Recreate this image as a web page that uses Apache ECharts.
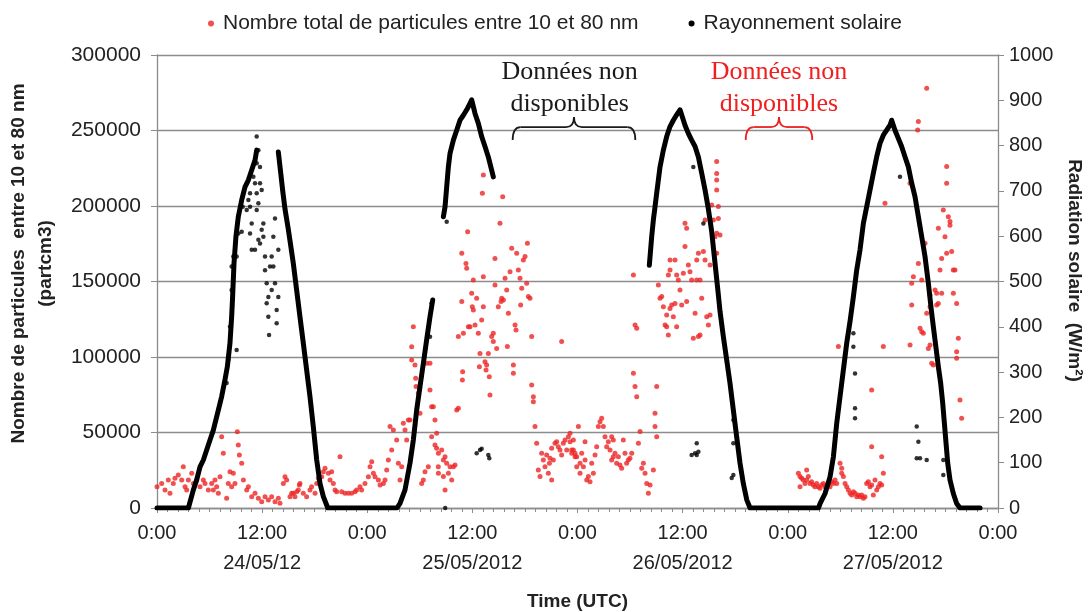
<!DOCTYPE html>
<html>
<head>
<meta charset="utf-8">
<script src="https://cdn.jsdelivr.net/npm/echarts@6/dist/echarts.min.js"></script>
<style>
  html, body { margin: 0; padding: 0; background: #fff; }
  #chart { width: 1091px; height: 612px; }
</style>
</head>
<body>
<div id="chart"></div>
<script>
// hours since 24/05/2012 0:00 UTC
var dateLabels = ['24/05/12', '25/05/2012', '26/05/2012', '27/05/2012'];
var particleName = 'Nombre total de particules entre 10 et 80 nm';
var solarName = 'Rayonnement solaire';

// particle counts [hour, part/cm3]
var particlesDay1 = [
  [0.0,14100],[0.53,16300],[0.91,11900],[1.29,18500],[1.48,9700],[1.86,16300],[2.05,19700],[2.43,21900],
  [2.82,18500],[3.0,27400],[3.2,14100],[3.39,11900],[3.58,18500],[3.96,23000],[4.15,16300],[4.53,18500],
  [4.91,14100],[5.29,18500],[5.48,16300],[5.86,11900],[6.24,16300],[6.43,11900],[6.62,18500],[6.81,14100],
  [7.0,9700],[7.19,20700],[7.38,47200],[7.57,36200],[7.95,6400],[8.14,16300],[8.33,24000],[8.52,14100],
  [8.71,23000],[8.9,16300],[9.17,50500],[9.28,41700],[9.4,35100],[9.67,29600],[9.86,18500],[10.24,11900],
  [10.43,14100],[10.81,7500],[11.19,9700],[11.57,6400],[11.95,4200],[12.33,7500],[12.71,5300],[13.09,7500],
  [13.47,4200],[13.85,6400],[14.04,3100],[14.42,16300],[14.61,20700],[14.8,18500],[15.18,7500],[15.56,9700],
  [15.94,10800],[16.25,15200],[15.37,9700],[15.75,7500],[16.13,11900],[16.32,16300],[16.7,9700],[17.08,7500],
  [17.46,11900],[17.65,14100],[18.04,9700],[18.23,16300],[18.42,19700],[18.8,20700],[18.99,24000],[19.18,26300],
  [19.56,23000],[19.75,18500],[19.94,24000],[20.13,16300],[20.32,11900],[20.51,10800],[20.89,34000],[21.08,10800],
  [21.46,9700],[21.84,9700],[22.22,9700],[22.6,10800],[22.79,11900],[23.17,14100],[23.36,11900],[23.74,16300]
];
var particlesDay2 = [
  [24.13,20700],[24.32,27400],[24.51,30700],[24.7,23000],[24.89,20700],[25.27,18500],[25.46,15200],[25.84,16300],
  [26.03,18500],[26.22,25200],[26.41,31800],[26.6,53900],[26.79,38400],[26.98,51700],[27.36,45000],[27.55,29600],
  [27.74,18500],[27.93,27400],[28.12,56100],[28.31,51700],[28.5,45000],[28.69,58300],[28.88,58300],[29.07,98000],
  [29.07,106800],[29.26,120000],[29.45,94700],[29.53,85900],[29.57,80400],[29.83,76000],[30.02,62700],[30.21,16300],
  [30.4,18500],[30.59,24000],[30.78,95800],[30.97,27400],[31.16,78200],[31.35,67100],[31.73,58300],[31.92,49500],
  [32.11,27400],[31.16,95800],[31.54,67100],[31.35,47200],[31.73,41700],[31.92,39500],[32.12,36200],[32.5,38400],
  [32.69,31800],[32.88,34000],[33.07,29600],[32.12,23000],[32.69,20800],[32.88,11900],[33.26,23000],[33.45,27400],
  [33.64,18500],[33.83,27400],[34.02,28500],[34.21,64900],[34.4,66000],[34.4,113500],[34.79,136700],[34.89,90300],
  [34.86,84800],[34.97,115700],[34.79,168700],[35.27,162000],[35.35,158700],[35.46,183000],[35.54,120100],[35.73,120100],
  [35.92,142200],[35.99,133300],[36.11,151000],[36.11,131100],[36.3,121200],[36.49,138900],[36.68,115700],[36.87,102400],
  [36.8,93600],[37.06,124500],[37.25,153200],[37.25,133300],[37.44,96900],[37.56,91400],[37.63,94700],[37.82,102400],
  [37.93,87000],[38.01,74800],[38.2,113500],[38.39,110200],[38.39,115700],[38.58,165300],[38.58,147700],[38.77,105700],
  [38.96,133300],[39.15,188500],[39.27,136700],[39.35,138900],[39.46,206200],[39.54,137800],[39.73,152100],[39.92,144400],
  [39.99,106900],[40.11,128900],[40.3,156500],[40.49,172000],[40.68,94700],[40.68,89200],[40.87,121200],[40.98,117900],
  [41.06,168700],[41.25,157600],[41.44,152100],[41.51,134400],[41.63,145500],[41.82,164300],[42.01,166500],[42.2,148800],
  [42.28,175300],[42.39,140000],[42.58,138900],[42.77,113500],[42.77,81500],[42.96,73700],[42.96,70400],[43.15,53900],
  [43.34,42800],[37.25,220500],[37.14,208400],
  [43.53,25200],[43.72,20800],[43.91,36200],[44.1,31800],[44.29,27400],[44.48,35100],[44.67,23000],[44.79,29600],
  [44.86,32900],[45.05,39500],[45.05,18500],[45.24,31800],[45.43,42800],[45.62,43900],[45.81,40600],[46.0,38400],
  [46.19,35100],[46.38,42800],[46.58,45000],[46.77,38400],[46.96,47200],[47.15,43900],[47.34,36200],[47.53,38400],
  [47.72,34000],[47.91,27400],[48.1,53900],[46.19,110200]
];
var particlesDay3 = [
  [47.15,49500],[47.34,38400],[47.53,45000],[47.72,36200],[47.91,34000],[48.29,29600],[48.29,23000],[48.48,36200],
  [48.67,27400],[48.86,43900],[48.86,31800],[49.05,18500],[49.24,20800],[49.43,17400],[49.62,29600],[49.81,23000],
  [50.0,35100],[50.19,40600],[50.38,53900],[50.57,57200],[50.76,59400],[50.95,53900],[51.14,47200],[51.33,40600],
  [51.52,43900],[51.71,38400],[51.9,47200],[52.09,45000],[51.9,31800],[52.09,34000],[52.28,36200],[52.47,29600],
  [52.66,34000],[52.85,28500],[53.04,26300],[53.23,45000],[53.42,36200],[53.61,29600],[53.8,31800],[53.99,32900],
  [54.19,36200],[54.38,89200],[54.57,80400],[54.76,73700],[54.95,42800],[55.14,50600],[55.33,26300],[55.52,29600],
  [55.71,23000],[55.9,16300],[56.09,9700],[56.28,15200],[56.66,25200],[56.85,62700],[56.85,53900],[57.04,47200],
  [57.04,80400],[54.38,154300],[54.57,121200],[54.76,119000],
  [57.23,147700],[57.42,138900],[57.61,140000],[57.8,133300],[57.99,121200],[58.18,120100],[58.18,127800],[58.37,114600],
  [58.56,132200],[58.75,134400],[58.94,126700],[59.13,135500],[59.32,120100],[59.7,144400],[59.89,134400],[60.08,155400],
  [60.27,173100],[60.46,136700],[60.65,160900],[60.84,156500],[61.03,151000],[61.22,112400],[61.42,128900],[61.61,164300],
  [61.8,113500],[61.99,114600],[62.18,138900],[62.37,169800],[62.56,190700],[62.56,164300],[62.75,126700],[62.94,121200],
  [63.13,127800],[60.27,188500],[60.46,185200],[58.56,164300],[59.13,164300],[58.37,154300],[58.56,157600],[59.32,154300],
  [59.51,151000],[63.89,229400],[63.89,221600],[63.89,217200],[63.89,210600],[64.08,199600],[64.08,191800],[63.89,181900],
  [63.51,190700],[63.7,179700],[61.99,151000],[61.61,151000],[61.8,168700],[63.89,168700],[63.32,200700],[64.27,180800],
  [63.13,160900]
];
var particlesDay4 = [
  [73.21,23000],[73.4,20800],[73.59,19700],[73.78,18500],[73.97,16300],[74.16,25200],[74.35,20800],[74.54,16300],
  [74.73,17400],[74.92,15200],[75.11,14100],[75.3,16300],[75.49,14100],[75.68,13000],[75.87,15200],[76.06,16300],
  [76.26,14100],[76.45,15200],[76.64,16300],[76.83,14100],[77.02,17400],[77.21,16300],[77.4,18500],[77.59,16300],
  [77.78,106900],[77.97,29600],[78.16,26300],[78.16,23000],[78.35,20800],[78.54,16300],[78.73,14100],[78.92,11900],
  [79.11,9700],[79.3,8600],[79.49,10800],[79.68,9700],[79.87,7500],[80.06,8600],[73.4,14100],[74.16,18500],
  [80.25,7500],[80.44,8600],[80.63,6400],[80.82,7500],[81.01,16300],[81.2,17400],[81.39,14100],[81.58,15200],
  [81.77,8600],[81.96,18500],[82.15,11900],[82.34,14100],[82.53,16300],[82.72,15200],[82.91,23000],[81.58,40600],
  [81.58,78100],[82.72,34000],[82.91,106900],[83.1,201800],[85.96,108000],[85.96,215000],[86.15,134400],[86.34,153200],
  [86.15,148800],[86.91,255900],[86.83,250300],[86.91,162000],[87.1,119000],[87.29,151000],[87.29,116800],[87.48,115700],
  [87.67,175300],[87.86,128900],[88.05,105700],[88.24,133300],[88.24,108000],[88.43,95800],[88.62,94700],[88.81,144400],
  [89.0,142200],[89.19,135500],[89.19,185200],[89.38,157600],[89.57,165300],[89.76,197400],[89.95,179700],[90.14,215000],
  [90.14,226100],[90.14,168700],[90.33,192900],[90.52,189700],[90.52,187200],[90.71,169800],[90.9,142200],[90.9,157600],
  [91.09,157600],[91.28,135500],[91.28,103500],[91.28,99100],[91.47,112400],[91.66,71500],[91.85,59400],[87.86,278000],
  [88.24,141100],[89.0,134400],[89.57,142200]
];

// solar radiation [hour, W/m2]; dense runs of the record
var solarRun1 = [
  [0,0],[3.58,0],[4.15,40],[4.53,62],[4.91,91],[5.29,106],[5.67,128],[6.05,150],[6.43,172],[7.0,216],[7.38,246],
  [7.76,283],[8.03,312],[8.33,364],[8.52,422],[8.63,466],[8.79,540],[9.01,599],[9.28,643],[9.67,680],[10.05,709],
  [10.43,724],[10.81,746],[11.19,768],[11.38,790]
];
var solarRun2 = [
  [13.85,786],[14.12,740],[14.35,700],[14.61,660],[14.99,615],[15.18,590],[15.56,540],[15.94,481],[16.32,422],
  [16.7,364],[17.08,305],[17.46,246],[17.84,180],[18.23,106],[18.61,54],[18.99,25],[19.5,0],[27.4,0],[27.74,10],
  [28.31,40],[28.88,99],[29.26,150],[29.64,216],[30.02,268],[30.4,319],[30.78,371],[31.16,422],[31.47,459]
];
var solarRun3 = [
  [32.69,643],[32.88,665],[33.07,709],[33.26,753],[33.45,783],[33.83,812],[34.21,834],[34.59,856],[34.97,867],
  [35.35,879],[35.73,893],[35.92,901],[36.3,871],[36.68,849],[37.06,820],[37.44,798],[37.82,775],[38.2,746],[38.39,731]
];
var solarRun4 = [
  [56.2,536],[56.47,599],[56.66,636],[56.85,665],[57.04,695],[57.23,724],[57.42,753],[57.8,790],[58.18,820],
  [58.56,842],[58.94,856],[59.32,868],[59.7,879],[59.89,868],[60.27,845],[60.65,827],[61.03,812],[61.42,798],
  [61.8,775],[62.18,739],[62.56,702],[62.94,660],[63.32,610],[63.7,540],[64.08,470],[64.27,434],[64.65,378],
  [65.03,327],[65.41,275],[65.79,216],[66.17,157],[66.55,99],[66.93,54],[67.32,18],[67.7,0],[75.5,0],[75.7,10],
  [76.26,32],[76.83,69],[77.21,113],[77.59,187],[77.97,246],[78.35,305],[78.73,364],[79.11,412],[79.49,466],
  [79.87,525],[80.25,570],[80.63,628],[81.01,665],[81.39,702],[81.77,739],[82.15,775],[82.53,805],[82.91,823],
  [83.29,834],[83.67,845],[83.86,856],[84.24,834],[84.62,816],[85.0,798],[85.39,775],[85.77,753],[86.15,717],
  [86.53,687],[86.91,643],[87.29,599],[87.67,555],[88.05,496],[88.43,430],[88.81,371],[89.19,312],[89.46,275],
  [89.69,231],[89.88,187],[90.07,143],[90.26,99],[90.52,62],[90.9,32],[91.28,10],[91.66,0],[93.95,0]
];
// solar readings away from the dense runs
var solarScattered = [
  [11.0,731],[11.19,717],[11.38,695],[11.57,673],[11.76,717],[11.95,702],[11.38,658],[10.62,695],[10.43,680],
  [10.24,658],[10.62,606],[11.19,570],[11.57,592],[11.76,584],[11.95,614],[12.14,599],[12.33,555],[12.33,525],
  [12.52,496],[12.71,466],[12.52,452],[12.71,422],[12.79,382],[13.09,481],[13.09,555],[13.28,599],[13.47,639],
  [13.28,533],[13.47,496],[13.66,437],[13.66,408],[13.85,466],[13.85,570],[12.9,533],[12.14,628],[10.81,628],
  [10.62,665],[9.78,665],[9.67,610],[9.28,606],[9.09,555],[8.71,555],[8.52,533],[10.81,570],[11.38,820],
  [11.57,790],[11.76,753],[11.38,761],[8.33,400],[8.52,481],[9.09,349],[7.95,276],[8.14,327],
  [31.35,452],[31.16,378],[32.9,0],[33.07,632],[36.49,121],[36.87,128],[37.06,131],[37.82,117],[37.93,110],
  [61.22,753],[62.37,628],[61.03,117],[61.42,121],[61.61,143],[61.8,124],[61.61,117],
  [65.79,143],[65.79,194],[65.6,66],[65.79,73],
  [79.49,386],[79.49,356],[79.68,297],[79.68,220],[79.68,198],[84.81,731],[86.72,180],[86.91,146],[86.72,110],
  [87.1,110],[87.86,106],[89.76,73],[89.76,106]
];

var font = 'Liberation Sans, Arial, sans-serif';
var axisGrey = '#8c8c8c';
var textCol = '#222';
var particleRed = '#ee2424';

var chart = echarts.init(document.getElementById('chart'));

var series = [{
  name: particleName,
  type: 'scatter',
  yAxisIndex: 0,
  symbol: 'circle',
  symbolSize: 5,
  itemStyle: { color: particleRed },
  z: 3,
  data: [].concat(particlesDay1, particlesDay2, particlesDay3, particlesDay4)
}];

[solarRun1, solarRun2, solarRun3, solarRun4].forEach(function (run) {
  series.push({
    name: solarName,
    type: 'line',
    yAxisIndex: 1,
    showSymbol: false,
    symbol: 'circle',
    itemStyle: { color: '#000' },
    lineStyle: { color: '#000', width: 5, cap: 'round', join: 'round' },
    z: 4,
    data: run
  });
});
series.push({
  name: solarName,
  type: 'scatter',
  yAxisIndex: 1,
  symbol: 'circle',
  symbolSize: 4.5,
  itemStyle: { color: '#000' },
  z: 4,
  data: solarScattered
});

var option = {
  animation: false,
  backgroundColor: '#fff',
  grid: { left: 157, right: 93, top: 55, bottom: 104, outerBoundsMode: 'none', containLabel: false },
  legend: {
    left: 203,
    top: 8,
    itemGap: 50,
    itemWidth: 14,
    itemHeight: 6,
    textStyle: { fontFamily: font, fontSize: 21, color: textCol },
    data: [
      { name: particleName, icon: 'circle' },
      { name: solarName, icon: 'circle' }
    ]
  },
  xAxis: {
    type: 'value',
    min: 0,
    max: 96,
    interval: 12,
    name: 'Time (UTC)',
    nameLocation: 'middle',
    nameGap: 84,
    nameTextStyle: { fontFamily: font, fontSize: 19, fontWeight: 'bold', color: textCol },
    axisLine: { show: true, lineStyle: { color: axisGrey, width: 1.3 } },
    axisTick: { show: true, length: 5, lineStyle: { color: axisGrey } },
    minorTick: { show: true, splitNumber: 10, length: 4, lineStyle: { color: axisGrey } },
    splitLine: { show: false },
    axisLabel: {
      fontFamily: font,
      fontSize: 20,
      color: textCol,
      lineHeight: 30,
      margin: 10,
      showMinLabel: true,
      showMaxLabel: true,
      formatter: function (v) {
        if (v % 24 === 12) return '12:00\n' + dateLabels[(v - 12) / 24];
        return '0:00';
      }
    }
  },
  yAxis: [{
    type: 'value',
    min: 0,
    max: 300000,
    interval: 50000,
    position: 'left',
    name: 'Nombre de particules  entre 10 et 80 nm\n(partcm3)',
    nameLocation: 'middle',
    nameGap: 98,
    nameRotate: 90,
    nameTextStyle: {
      fontFamily: font, fontSize: 19, fontWeight: 'bold', color: textCol, lineHeight: 27,
      padding: [0, 0, 0, 36]
    },
    axisLine: { show: true, lineStyle: { color: axisGrey, width: 1.3 } },
    axisTick: { show: true, length: 6, lineStyle: { color: axisGrey } },
    splitLine: { show: true, lineStyle: { color: axisGrey, width: 1.3 } },
    axisLabel: {
      fontFamily: font, fontSize: 21, color: textCol, margin: 16,
      formatter: function (v) { return String(v); }
    }
  }, {
    type: 'value',
    min: 0,
    max: 1000,
    interval: 100,
    position: 'right',
    name: 'Radiation solaire  (W/m²)',
    nameLocation: 'middle',
    nameGap: 66,
    nameRotate: -90,
    nameTextStyle: {
      fontFamily: font, fontSize: 19, fontWeight: 'bold', color: textCol,
      padding: [0, 22, 0, 0]
    },
    axisLine: { show: true, lineStyle: { color: axisGrey, width: 1.3 } },
    axisTick: { show: true, length: 6, lineStyle: { color: axisGrey } },
    splitLine: { show: false },
    axisLabel: {
      fontFamily: font, fontSize: 20, color: textCol, margin: 11,
      formatter: function (v) { return String(v); }
    }
  }],
  series: series
};

chart.setOption(option);

// "données non disponibles" notes: [brace from hour, brace to hour, text centre hour, colour]
var gapNotes = [
  [40.6, 54.6, 47.1, '#1a1a1a'],
  [67.2, 74.8, 71.0, '#ee2020']
];

function px(h, v) {
  return chart.convertToPixel({ gridIndex: 0 }, [h, v]);
}

function curve(xa, ya, cx, cy, xb, yb, col) {
  return {
    type: 'bezierCurve',
    shape: { x1: xa, y1: ya, cpx1: cx, cpy1: cy, x2: xb, y2: yb },
    style: { stroke: col, fill: null, lineWidth: 1.8 },
    z: 10
  };
}

function straight(xa, ya, xb, yb, col) {
  return {
    type: 'line',
    shape: { x1: xa, y1: ya, x2: xb, y2: yb },
    style: { stroke: col, lineWidth: 1.8 },
    z: 10
  };
}

var graphics = [];
gapNotes.forEach(function (n) {
  var col = n[3];
  var x1 = px(n[0], 0)[0];
  var x2 = px(n[1], 0)[0];
  var xc = (x1 + x2) / 2;
  var xt = px(n[2], 0)[0];
  var yTop = px(0, 299000)[1];
  var yTip = px(0, 259000)[1];
  var yMid = px(0, 252300)[1];
  var yEnd = px(0, 243700)[1];
  var r = 8;
  graphics.push(curve(x1, yEnd, x1, yMid, x1 + r, yMid, col));
  graphics.push(straight(x1 + r, yMid, xc - r, yMid, col));
  graphics.push(curve(xc - r, yMid, xc, yMid, xc, yTip, col));
  graphics.push(curve(xc, yTip, xc, yMid, xc + r, yMid, col));
  graphics.push(straight(xc + r, yMid, x2 - r, yMid, col));
  graphics.push(curve(x2 - r, yMid, x2, yMid, x2, yEnd, col));
  graphics.push({
    type: 'text',
    x: xt,
    y: yTop,
    style: {
      text: 'Données non\ndisponibles',
      fill: col,
      fontFamily: 'Liberation Serif, Times New Roman, serif',
      fontSize: 26,
      lineHeight: 32,
      align: 'center',
      verticalAlign: 'top'
    },
    z: 10
  });
});
chart.setOption({ graphic: graphics });
</script>
</body>
</html>
